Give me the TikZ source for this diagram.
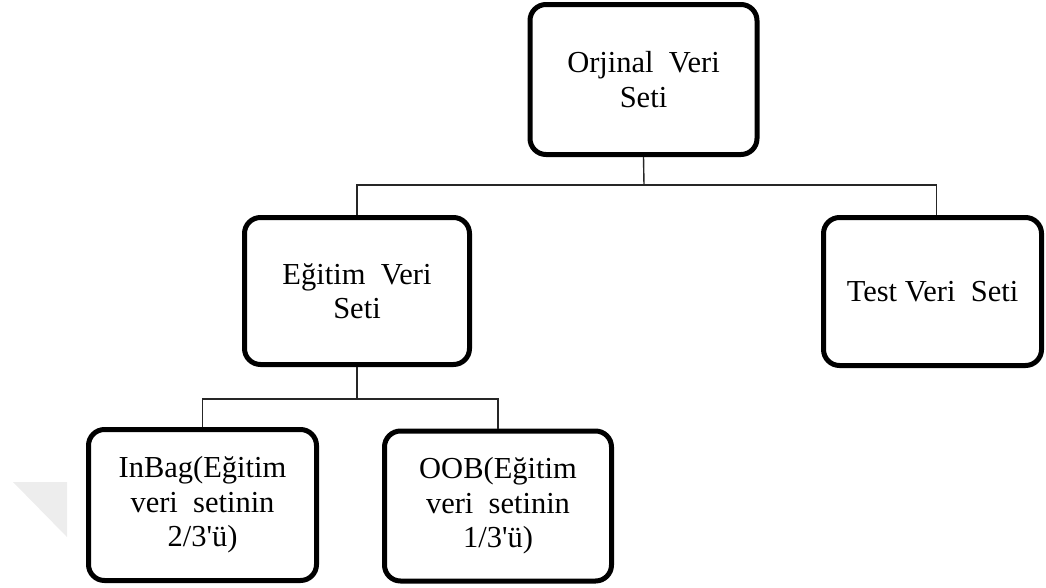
\documentclass[tikz,border=0pt]{standalone}
\usepackage{fontspec}
\setmainfont{Liberation Serif}[Ligatures=TeXOff]
\begin{document}
\begin{tikzpicture}[x=1pt,y=-1pt,
  box/.style={draw=black, line width=5pt, rounded corners=16pt, fill=white,
    minimum width=227pt, minimum height=150pt, align=center, inner sep=0pt,
    font=\fontsize{30.5}{34.5}\selectfont},
  link/.style={draw=black!85, line width=1.4pt}]
  \useasboundingbox (0,0) rectangle (1046,587);
  % faint corner mark
  \fill[black!7] (13,482) -- (67,482) -- (67,537) -- cycle;

  % boxes
  \node[box] (orj) at (643.5,79.5) {Orjinal\ \ Veri\\Seti};
  \node[box, minimum width=225pt, minimum height=147pt] (egt) at (357,291) {Eğitim\ \ Veri\\Seti};
  \node[box, minimum width=218pt, minimum height=148pt] (tst) at (932.5,291.5) {Test Veri\ \ Seti};
  \node[box, minimum width=228pt, minimum height=151pt] (inb) at (202.5,505) {InBag(Eğitim\\veri\ \ setinin\\2/3'ü)};
  \node[box, minimum width=227pt, minimum height=150pt] (oob) at (498,506) {OOB(Eğitim\\veri\ \ setinin\\1/3'ü)};

  % junction points of the tree
  \coordinate (j1) at (644,185);
  \coordinate (j2) at (357,399);

  % connectors
  \draw[link] (orj.south) -- (j1);
  \draw[link] (j1) -| (egt.north);
  \draw[link] (j1) -| ([xshift=4pt]tst.north);
  \draw[link] (egt.south) -- (j2);
  \draw[link] (j2) -| (inb.north);
  \draw[link] (j2) -| (oob.north);
\end{tikzpicture}
\end{document}
